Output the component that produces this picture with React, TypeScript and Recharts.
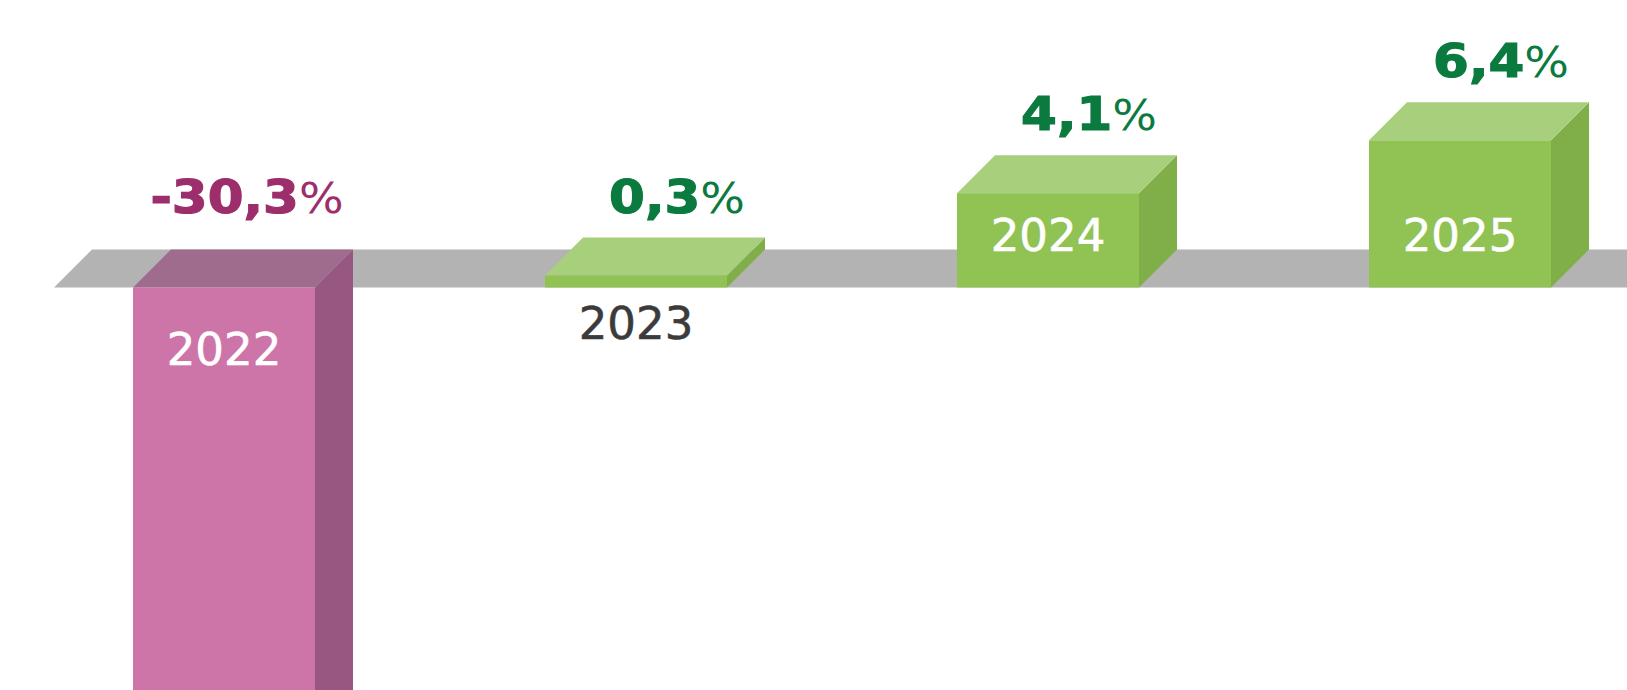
import React from 'react';
import { BarChart, Bar, XAxis, YAxis, ReferenceLine, LabelList } from 'recharts';

// year-on-year change, %
const years = ['2022', '2023', '2024', '2025'];
const changes = [-30.3, 0.3, 4.1, 6.4];

const data = years.map((year, i) => ({ year, change: changes[i] }));

const DEPTH = 38;
const FONT = '"DejaVu Sans", sans-serif';

const GREEN = { front: '#91c254', top: '#a8d07c', side: '#80ae49', label: '#0b7a3f' };
const PINK = { front: '#cd74a8', top: '#a06c8d', side: '#985780', label: '#9d2e6c' };

const edges = (y: number, height: number, value: number) => {
    const top = Math.min(y, y + height);
    const bottom = Math.max(y, y + height);
    return { top, bottom, zero: value < 0 ? top : bottom };
};

const Box3D = (props: any) => {
    const { x, y, width, height, payload } = props;
    const { top, bottom } = edges(y, height, payload.change);
    const c = payload.change < 0 ? PINK : GREEN;
    const r = x + width;
    return (
        <g>
            <polygon points={`${r},${top} ${r + DEPTH},${top - DEPTH} ${r + DEPTH},${bottom - DEPTH} ${r},${bottom}`} fill={c.side} />
            <polygon points={`${x},${top} ${x + DEPTH},${top - DEPTH} ${r + DEPTH},${top - DEPTH} ${r},${top}`} fill={c.top} />
            <rect x={x} y={top} width={width} height={bottom - top} fill={c.front} />
        </g>
    );
};

const FloorBand = (props: any) => {
    const { x1, x2, y1 } = props;
    const inset = 36;
    return (
        <polygon
            points={`${x1 + inset},${y1} ${x1 + inset + DEPTH},${y1 - DEPTH} ${x2},${y1 - DEPTH} ${x2},${y1}`}
            fill="#b3b3b3"
        />
    );
};

const ValueLabel = (props: any) => {
    const vb = props.viewBox ?? props;
    const value = Number(props.value);
    const { top, zero } = edges(vb.y, vb.height, value);
    const cx = vb.x + vb.width / 2;
    const neg = value < 0;
    const lx = neg ? cx + 23 : cx + 41;
    const ly = neg ? zero - 75 : top - DEPTH - 25;
    const color = neg ? PINK.label : GREEN.label;
    const text = value.toFixed(1).replace('.', ',');
    return (
        <g transform={`translate(${lx},${ly}) scale(1.12,1)`}>
            <text x={0} y={0} textAnchor="middle" fontFamily={FONT} fill={color}>
                <tspan fontWeight="bold" fontSize={46} stroke={color} strokeWidth={1.2}>{text}</tspan>
                <tspan fontWeight="normal" fontSize={42}>%</tspan>
            </text>
        </g>
    );
};

const YearLabel = (props: any) => {
    const vb = props.viewBox ?? props;
    const year = String(props.value);
    const value = changes[years.indexOf(year)];
    const { top, bottom, zero } = edges(vb.y, vb.height, value);
    const cx = vb.x + vb.width / 2;
    let ly = zero - 37;
    let fill = '#ffffff';
    if (value < 0) {
        ly = zero + 77;
    } else if (bottom - top < 60) {
        ly = zero + 51;
        fill = '#3b3b3b';
    }
    return (
        <text x={cx} y={ly} textAnchor="middle" fontFamily={FONT} fontSize={45} fill={fill} stroke={fill} strokeWidth={0.6}>
            {year}
        </text>
    );
};

export default function App() {
    return (
        <div style={{ position: 'absolute', left: 0, top: 0, width: 1627, height: 690, overflow: 'hidden', background: '#ffffff' }}>
            <BarChart width={1666} height={690} data={data} margin={{ top: 0, right: 0, left: 18, bottom: 0 }}>
                <XAxis dataKey="year" hide />
                <YAxis hide domain={[-17.5, 12.5]} allowDataOverflow />
                <ReferenceLine y={0} shape={FloorBand} zIndex={0} />
                <Bar
                    dataKey="change"
                    barSize={182}
                    minPointSize={12}
                    shape={Box3D}
                    isAnimationActive={false}
                >
                    <LabelList dataKey="change" content={ValueLabel} />
                    <LabelList dataKey="year" content={YearLabel} />
                </Bar>
            </BarChart>
        </div>
    );
}
